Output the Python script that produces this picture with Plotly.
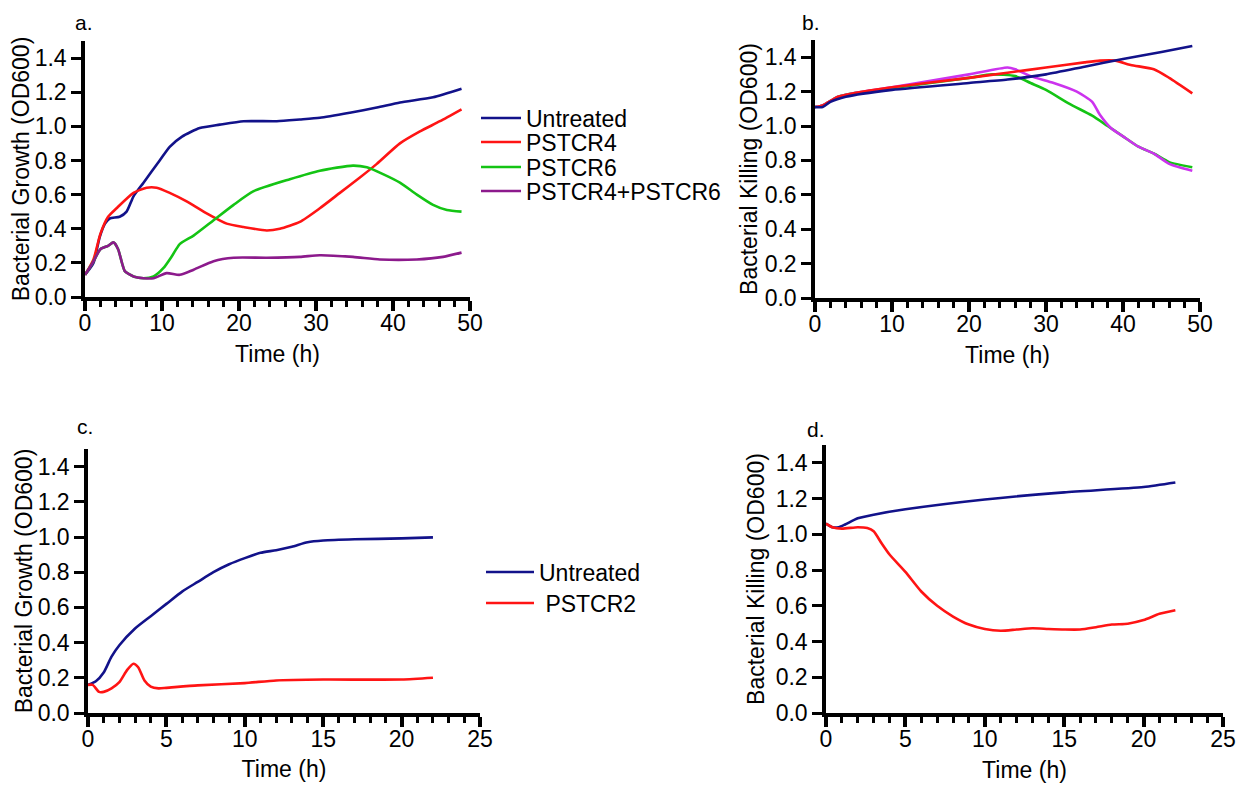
import plotly.graph_objects as go

# ---------------- Data ----------------
# Panel a: bacterial growth (OD600)
a_t_untreated = [0, 1.1, 1.9, 2.6, 3.2, 4.5, 5.4, 6.3, 7.6, 9.7, 11, 12.6, 14.9, 17.5, 20.6, 24.9, 27.9, 30.5, 34.4, 37.9, 40.9, 45.2, 48.9]
a_untreated = [0.13, 0.20, 0.35, 0.43, 0.46, 0.47, 0.50, 0.59, 0.67, 0.80, 0.88, 0.94, 0.99, 1.01, 1.03, 1.03, 1.04, 1.05, 1.08, 1.11, 1.14, 1.17, 1.22]

a_t_pstcr4 = [0, 1.1, 2.0, 3.0, 4.1, 6.3, 8.0, 9.3, 11, 13.2, 15.8, 18.4, 20.6, 23.6, 25.3, 27.9, 30.5, 33.1, 35.7, 37.9, 40.9, 43.5, 46.1, 48.9]
a_pstcr4 = [0.13, 0.22, 0.37, 0.47, 0.52, 0.61, 0.64, 0.64, 0.61, 0.56, 0.49, 0.43, 0.41, 0.39, 0.40, 0.44, 0.52, 0.61, 0.70, 0.78, 0.90, 0.97, 1.03, 1.10]

a_t_pstcr6 = [0, 1.0, 2.0, 3.0, 3.7, 4.3, 4.8, 5.2, 6.3, 7.6, 8.9, 10.2, 11.3, 12.3, 14.1, 16.7, 19.3, 21.9, 26.6, 30.5, 34.8, 36.6, 38.7, 40.9, 43.1, 45.2, 47.0, 48.9]
a_pstcr6 = [0.13, 0.20, 0.28, 0.30, 0.32, 0.28, 0.20, 0.15, 0.12, 0.11, 0.12, 0.17, 0.24, 0.31, 0.36, 0.45, 0.54, 0.62, 0.69, 0.74, 0.77, 0.76, 0.72, 0.67, 0.60, 0.54, 0.51, 0.50]

a_t_combo = [0, 1.0, 2.0, 3.0, 3.7, 4.3, 4.8, 5.2, 6.3, 7.6, 8.9, 10.6, 12.3, 14.1, 16.7, 19.3, 23.6, 27.9, 30.5, 34.8, 38.3, 43.1, 46.5, 48.9]
a_combo = [0.13, 0.20, 0.28, 0.30, 0.32, 0.28, 0.20, 0.15, 0.12, 0.11, 0.11, 0.14, 0.13, 0.16, 0.21, 0.23, 0.23, 0.235, 0.245, 0.235, 0.22, 0.22, 0.235, 0.26]

# Panel b: bacterial killing (OD600)
b_t_untreated = [0, 1, 2, 4, 10, 20, 25, 30, 35, 40, 45, 49]
b_untreated = [1.11, 1.11, 1.14, 1.17, 1.21, 1.25, 1.27, 1.30, 1.345, 1.39, 1.43, 1.465]

b_t_pstcr4 = [0, 1, 3, 5, 10, 20, 25, 30, 35, 37, 39, 41, 44, 46, 49]
b_pstcr4 = [1.11, 1.12, 1.17, 1.19, 1.225, 1.28, 1.31, 1.34, 1.37, 1.38, 1.38, 1.355, 1.33, 1.28, 1.19]

b_t_pstcr6 = [0, 1, 3, 5, 10, 20, 23, 26, 28, 30, 33, 36, 38, 40, 42, 44, 46, 49]
b_pstcr6 = [1.11, 1.12, 1.17, 1.19, 1.22, 1.28, 1.30, 1.29, 1.25, 1.21, 1.13, 1.06, 1.00, 0.94, 0.88, 0.84, 0.79, 0.76]

b_t_combo = [0, 1, 3, 5, 10, 20, 25, 26, 28, 31, 34, 36, 37, 38.5, 40, 42, 44, 46, 49]
b_combo = [1.11, 1.12, 1.17, 1.19, 1.225, 1.30, 1.34, 1.33, 1.29, 1.25, 1.20, 1.14, 1.065, 0.985, 0.94, 0.88, 0.84, 0.78, 0.74]

# Panel c: bacterial growth (OD600)
c_t_untreated = [0, 0.5, 1, 1.5, 2, 3, 4, 5, 6, 7, 8, 9, 10, 11, 12, 13, 14, 15, 17, 20, 22]
c_untreated = [0.16, 0.18, 0.23, 0.32, 0.385, 0.48, 0.55, 0.62, 0.69, 0.745, 0.80, 0.845, 0.88, 0.91, 0.925, 0.945, 0.97, 0.98, 0.987, 0.992, 0.998]

c_t_pstcr2 = [0, 0.3, 0.7, 1, 1.5, 2, 2.5, 2.9, 3.2, 3.6, 4, 4.5, 5, 7, 10, 12, 15, 20, 22]
c_pstcr2 = [0.16, 0.16, 0.12, 0.12, 0.14, 0.175, 0.245, 0.28, 0.26, 0.185, 0.15, 0.14, 0.143, 0.157, 0.17, 0.185, 0.19, 0.19, 0.20]

# Panel d: bacterial killing (OD600)
d_t_untreated = [0, 0.4, 0.8, 1.2, 2, 3, 5, 10, 15, 20, 22]
d_untreated = [1.06, 1.04, 1.04, 1.055, 1.09, 1.11, 1.14, 1.195, 1.235, 1.265, 1.29]

d_t_pstcr2 = [0, 0.4, 1, 2, 2.6, 3, 3.5, 4, 5, 6, 7, 8, 9, 10, 11, 12, 13, 14, 15, 16, 17, 18, 19, 20, 21, 22]
d_pstcr2 = [1.06, 1.04, 1.032, 1.04, 1.035, 1.017, 0.95, 0.887, 0.79, 0.68, 0.60, 0.54, 0.495, 0.47, 0.46, 0.467, 0.474, 0.47, 0.467, 0.467, 0.48, 0.495, 0.50, 0.52, 0.555, 0.575]

# Labels
legend_a_names = ["Untreated", "PSTCR4", "PSTCR6", "PSTCR4+PSTCR6"]
legend_c_names = ["Untreated", " PSTCR2"]
panel_labels = ["a.", "b.", "c.", "d."]
y_titles = ["Bacterial Growth (OD600)", "Bacterial Killing (OD600)",
            "Bacterial Growth (OD600)", "Bacterial Killing (OD600)"]
x_title = "Time (h)"

# ---------------- Styling ----------------
NAVY = "#12128a"
RED = "#ff1414"
GREEN = "#14c414"
PURPLE_A = "#8c1a8c"
VIOLET_B = "#cc33ee"
FONT = "Arial, 'Liberation Sans', sans-serif"
OFF = 8                 # page body margin
W, H = 1244, 780        # figure size (window is 1252x788, body margin 8)

def px_x(p):
    return (p - OFF) / W

def px_y(p):
    return (H - (p - OFF)) / H

fig = go.Figure()

def add(x, y, color, xa, ya, name=None, legend=None):
    fig.add_trace(go.Scatter(
        x=x, y=y, mode="lines", name=name,
        line=dict(color=color, width=2.6, shape="spline", smoothing=0.6),
        xaxis=xa, yaxis=ya, showlegend=legend is not None,
        legend=legend if legend else "legend",
        hoverinfo="skip"))

# Panel a (one legend box per entry so rows sit at the reference spacing)
add(a_t_untreated, a_untreated, NAVY, "x", "y", legend_a_names[0], "legend")
add(a_t_pstcr4, a_pstcr4, RED, "x", "y", legend_a_names[1], "legend2")
add(a_t_pstcr6, a_pstcr6, GREEN, "x", "y", legend_a_names[2], "legend3")
add(a_t_combo, a_combo, PURPLE_A, "x", "y", legend_a_names[3], "legend4")
# Panel b
add(b_t_pstcr6, b_pstcr6, GREEN, "x2", "y2")
add(b_t_combo, b_combo, VIOLET_B, "x2", "y2")
add(b_t_pstcr4, b_pstcr4, RED, "x2", "y2")
add(b_t_untreated, b_untreated, NAVY, "x2", "y2")
# Panel c
add(c_t_untreated, c_untreated, NAVY, "x3", "y3", legend_c_names[0], "legend5")
add(c_t_pstcr2, c_pstcr2, RED, "x3", "y3", legend_c_names[1], "legend6")
# Panel d
add(d_t_untreated, d_untreated, NAVY, "x4", "y4")
add(d_t_pstcr2, d_pstcr2, RED, "x4", "y4")

TICKF = dict(family=FONT, size=23, color="black")
TITLEF = dict(family=FONT, size=23, color="black")

def xaxis(x0, x1, y_anchor, rng, dtick, minor, standoff):
    return dict(
        domain=[px_x(x0), px_x(x1)], anchor=y_anchor, range=rng,
        dtick=dtick, tick0=0, showgrid=False, zeroline=False,
        showline=True, linecolor="black", linewidth=3.5,
        ticks="outside", ticklen=10, tickwidth=3.5, tickcolor="black",
        ticklabelstandoff=-7,
        minor=dict(dtick=minor, tick0=0, ticks="outside", ticklen=6, tickwidth=3,
                   tickcolor="black", showgrid=False),
        tickfont=TICKF,
        title=dict(text=x_title, font=TITLEF, standoff=standoff),
        automargin=False, fixedrange=True)

def yaxis(y0, y1, x_anchor, title, standoff):
    return dict(
        domain=[px_y(y0), px_y(y1)], anchor=x_anchor, range=[0, 1.5],
        dtick=0.2, tick0=0, tickformat=".1f", showgrid=False, zeroline=False,
        showline=True, linecolor="black", linewidth=3.5,
        ticks="outside", ticklen=10, tickwidth=3, tickcolor="black",
        tickfont=TICKF,
        title=dict(text=title, font=TITLEF, standoff=standoff),
        automargin=False, fixedrange=True)

def leg(xp, yp, iw):
    return dict(x=px_x(xp), y=px_y(yp), xanchor="left", yanchor="middle",
                font=dict(family=FONT, size=23, color="black"),
                bgcolor="rgba(0,0,0,0)", borderwidth=0, itemwidth=iw)

fig.update_layout(
    width=W, height=H, autosize=False,
    margin=dict(l=0, r=0, t=0, b=0),
    paper_bgcolor="white", plot_bgcolor="white",
    font=dict(family=FONT, color="black"),
    xaxis=xaxis(85, 470, "y", [0, 50], 10, 2, 12),
    yaxis=yaxis(297, 41, "x", y_titles[0], 1),
    xaxis2=xaxis(815, 1200, "y2", [0, 50], 10, 2, 12),
    yaxis2=yaxis(298, 40, "x2", y_titles[1], 2),
    xaxis3=xaxis(88, 480, "y3", [0, 25], 5, 1, 11),
    yaxis3=yaxis(713, 449, "x3", y_titles[2], 0),
    xaxis4=xaxis(826, 1223, "y4", [0, 25], 5, 1, 12),
    yaxis4=yaxis(713, 445, "x4", y_titles[3], 6),
    legend=leg(476, 118, 40),
    legend2=leg(476, 142, 40),
    legend3=leg(476, 167, 40),
    legend4=leg(476, 191, 40),
    legend5=leg(481, 572, 48),
    legend6=leg(481, 603, 48),
)

label_pos = [(84, 22), (811, 22), (85, 426), (816, 429)]
for lab, (lx, ly) in zip(panel_labels, label_pos):
    fig.add_annotation(text=lab, x=px_x(lx), y=px_y(ly), xref="paper", yref="paper",
                       showarrow=False, xanchor="center", yanchor="middle",
                       font=dict(family=FONT, size=21, color="black"))

fig.write_html("out.html")
